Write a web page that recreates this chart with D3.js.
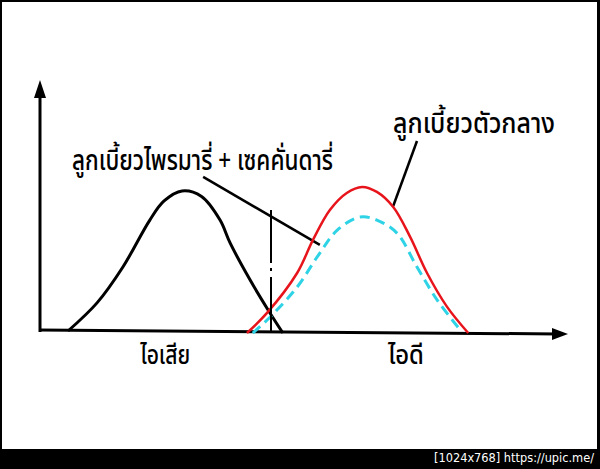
<!DOCTYPE html>
<html>
<head>
<meta charset="utf-8">
<script src="https://cdn.jsdelivr.net/npm/d3@7"></script>
<style>
  body { margin: 0; background: #fff; }
  svg { display: block; }
  text { font-family: "Noto Sans Thai", "Noto Sans", "DejaVu Sans", sans-serif; }
</style>
</head>
<body>
<script>
// page size
var width = 600,
    height = 469;

// curve points (x: position along axis, y: amount)
var exhaustX = [5.3, 10.8, 15.7, 20.8, 23.5, 26.9, 30.6, 34.1, 36.0, 39.8, 43.2, 46.0];
var exhaustY = [0, 11.2, 25.5, 44.2, 51.8, 55.8, 53.6, 44.2, 35.1, 20.3, 8.4, -0.8];

var centerX = [39.2, 43.0, 48.7, 51.7, 54.9, 58.1, 61.0, 63.8, 66.9, 70.1, 73.3, 77.1, 81.1];
var centerY = [-0.8, 7.2, 23.1, 36.3, 48.2, 55.0, 57.4, 55.4, 49.4, 37.5, 23.1, 9.6, -0.8];

var primaryX = [40.3, 43.6, 48.7, 52.5, 56.3, 60.6, 63.8, 67.6, 71.4, 75.2, 79.9];
var primaryY = [-0.8, 5.6, 17.5, 29.5, 40.2, 45.4, 44.2, 39.0, 25.5, 12.4, -0.4];

// overlap marker (dash-dot line)
var markerX = 43.75;
var markerTop = 48.2;

// labels
var axisLabels = ["ไอเสีย", "ไอดี"];
var axisLabelX = [23.7, 69.3];
var axisLabelW = [50, 36];
var label1 = "ลูกเบี้ยวไพรมารี่ + เซคคั่นดารี่";
var label2 = "ลูกเบี้ยวตัวกลาง";
var watermark = "[1024x768] https://upic.me/";

var svg = d3.select("body")
            .append("svg")
            .attr("width", width)
            .attr("height", height);

// frame
svg.append("rect").attr("x", 0).attr("y", 0).attr("width", width).attr("height", height).attr("fill", "#000");
svg.append("rect").attr("x", 2).attr("y", 2).attr("width", 595).attr("height", 447).attr("fill", "#fff");

// scales
var x = d3.scaleLinear().domain([0, 100]).range([40, 568]);
var y = d3.scaleLinear().domain([0, 100]).range([331, 80]);

// axes (hand drawn look, no ticks)
svg.append("line")
   .attr("x1", x(0)).attr("y1", y(0) + 1)
   .attr("x2", x(0)).attr("y2", y(100) + 12)
   .attr("stroke", "#000").attr("stroke-width", 3);
svg.append("path")
   .attr("d", "M" + (x(0) - 6) + "," + (y(100) + 18) + "L" + x(0) + "," + y(100) + "L" + (x(0) + 6) + "," + (y(100) + 18) + "Z")
   .attr("fill", "#000");
svg.append("line")
   .attr("x1", x(0) - 1).attr("y1", y(0) - 1)
   .attr("x2", x(100) - 10).attr("y2", y(0) + 3)
   .attr("stroke", "#000").attr("stroke-width", 3);
svg.append("path")
   .attr("d", "M" + (x(100) - 16) + "," + (y(0) - 3) + "L" + x(100) + "," + (y(0) + 3) + "L" + (x(100) - 16) + "," + (y(0) + 9) + "Z")
   .attr("fill", "#000");

var line = d3.line()
    .x(function(d) { return x(d[0]); })
    .y(function(d) { return y(d[1]); })
    .curve(d3.curveCatmullRom.alpha(0.5));

function pts(xs, ys) { return xs.map(function(v, i) { return [v, ys[i]]; }); }

// exhaust cam curve
svg.append("path")
   .attr("d", line(pts(exhaustX, exhaustY)))
   .attr("fill", "none").attr("stroke", "#000").attr("stroke-width", 3);

// leader lines
svg.append("line")
   .attr("x1", x(30.9)).attr("y1", y(61.4))
   .attr("x2", x(53.0)).attr("y2", y(34.3))
   .attr("stroke", "#000").attr("stroke-width", 2.5);
svg.append("line")
   .attr("x1", x(71.4)).attr("y1", y(75.7))
   .attr("x2", x(66.9)).attr("y2", y(49.8))
   .attr("stroke", "#000").attr("stroke-width", 2.5);

// intake curves
svg.append("path")
   .attr("d", line(pts(centerX, centerY)))
   .attr("fill", "none").attr("stroke", "#e8141c").attr("stroke-width", 2.5);
svg.append("path")
   .attr("d", line(pts(primaryX, primaryY)))
   .attr("fill", "none").attr("stroke", "#2fd3e6").attr("stroke-width", 3)
   .attr("stroke-dasharray", "10,6");

// dash-dot marker
svg.append("line")
   .attr("x1", x(markerX)).attr("y1", y(markerTop))
   .attr("x2", x(markerX)).attr("y2", y(-0.8))
   .attr("stroke", "#000").attr("stroke-width", 2)
   .attr("stroke-dasharray", "53,5,3,6,100");

// labels
svg.append("text")
   .attr("x", 72).attr("y", 170)
   .attr("font-size", 28).attr("font-weight", 500)
   .attr("textLength", 261).attr("lengthAdjust", "spacingAndGlyphs")
   .text(label1);
svg.append("text")
   .attr("x", 393).attr("y", 133)
   .attr("font-size", 28).attr("font-weight", 500)
   .attr("textLength", 162).attr("lengthAdjust", "spacingAndGlyphs")
   .text(label2);

svg.selectAll(".axis-label")
   .data(axisLabels)
   .enter()
   .append("text")
   .attr("class", "axis-label")
   .attr("x", function(d, i) { return x(axisLabelX[i]) - axisLabelW[i] / 2; })
   .attr("y", 364)
   .attr("font-size", 27).attr("font-weight", 500)
   .attr("textLength", function(d, i) { return axisLabelW[i]; })
   .attr("lengthAdjust", "spacingAndGlyphs")
   .text(function(d) { return d; });

// watermark
svg.append("text")
   .attr("x", 434).attr("y", 462)
   .attr("font-size", 13)
   .attr("fill", "#fff")
   .attr("textLength", 160).attr("lengthAdjust", "spacingAndGlyphs")
   .style("font-family", "'DejaVu Sans Condensed', 'DejaVu Sans', sans-serif")
   .text(watermark);
</script>
</body>
</html>
